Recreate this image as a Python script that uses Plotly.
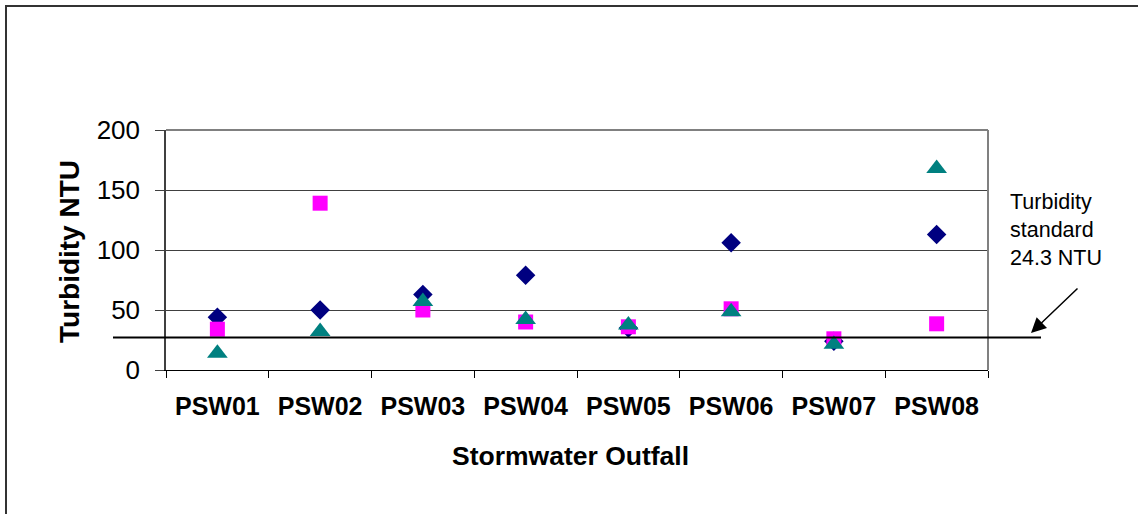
import plotly.graph_objects as go

outfalls = ["PSW01", "PSW02", "PSW03", "PSW04", "PSW05", "PSW06", "PSW07", "PSW08"]
series_diamond = [44, 50, 63, 79, 35, 106, 24, 113]
series_square = [34, 139, 50, 40, 36, 51, 26, 38.5]
series_triangle = [14, 32, 57, 42, 37.5, 48.5, 21.5, 168]
standard_line_y = 27  # drawn position of the standard line
standard_label = "Turbidity<br>standard<br>24.3 NTU"
y_ticks = [0, 50, 100, 150, 200]

FONT = "Arial, 'Liberation Sans', sans-serif"

fig = go.Figure()
fig.add_trace(go.Scatter(x=outfalls, y=series_diamond, mode="markers",
                         marker=dict(symbol="diamond", size=15, color="#000080")))
fig.add_trace(go.Scatter(x=outfalls, y=series_square, mode="markers",
                         marker=dict(symbol="square", size=15, color="#FF00FF")))
fig.add_trace(go.Scatter(x=outfalls, y=series_triangle, mode="markers",
                         marker=dict(symbol="triangle-up", size=18, color="#008080")))

L, R, T, B = 166, 150, 130, 144
W, H = 1138, 514
pw, ph = W - L - R, H - T - B

def px_x(x):
    return (x - L) / pw

def px_y(y):
    return (H - B - y) / ph

fig.update_layout(
    width=W, height=H,
    margin=dict(l=L, r=R, t=T, b=B),
    paper_bgcolor="white", plot_bgcolor="white",
    showlegend=False,
    font=dict(family=FONT, color="black"),
    xaxis=dict(
        type="category", tickson="boundaries", ticks="outside", ticklen=7,
        tickcolor="black", showline=True, linecolor="black", linewidth=1,
        showgrid=False, tickfont=dict(size=25, family=FONT, weight="bold"),
        ticklabelstandoff=14, range=[-0.5, 7.5], fixedrange=True,
    ),
    yaxis=dict(
        range=[0, 200], tickvals=y_ticks, ticks="outside", ticklen=9,
        tickcolor="#404040", showline=True, linecolor="#404040", linewidth=1.5,
        showgrid=True, gridcolor="#404040", gridwidth=1, zeroline=False,
        tickfont=dict(size=26, family=FONT), ticklabelstandoff=10,
    ),
)

shapes = [
    dict(type="rect", xref="paper", yref="paper", x0=px_x(6), x1=px_x(1300),
         y0=px_y(700), y1=px_y(6), line=dict(color="#333333", width=2), layer="below"),
    dict(type="line", xref="paper", yref="paper", x0=0, x1=1, y0=1, y1=1,
         line=dict(color="#808080", width=2)),
    dict(type="line", xref="paper", yref="paper", x0=1, x1=1, y0=0, y1=1,
         line=dict(color="#808080", width=2)),
    dict(type="line", xref="paper", yref="y", x0=px_x(113), x1=px_x(1041),
         y0=standard_line_y, y1=standard_line_y, line=dict(color="black", width=2)),
]
fig.update_layout(shapes=shapes)

annotations = [
    dict(text="Turbidity NTU", xref="paper", yref="paper", x=px_x(69), y=px_y(252),
         textangle=-90, showarrow=False, font=dict(size=28, family=FONT, weight="bold"),
         xanchor="center", yanchor="middle"),
    dict(text="Stormwater Outfall", xref="paper", yref="paper", x=px_x(570), y=px_y(456),
         showarrow=False, font=dict(size=26.5, family=FONT, weight="bold"),
         xanchor="center", yanchor="middle"),
    dict(text=standard_label, xref="paper", yref="paper", x=px_x(1008), y=px_y(230),
         showarrow=False, align="left", xanchor="left", yanchor="middle",
         font=dict(size=21.5, family=FONT)),
    dict(text="", xref="paper", yref="paper", x=px_x(1031), y=px_y(333),
         ax=48, ay=-46, showarrow=True, arrowhead=2, arrowsize=2, arrowwidth=1.5,
         arrowcolor="black"),
]
fig.update_layout(annotations=annotations)

fig.write_html("out.html", config={"displayModeBar": False},
               post_script="document.body.style.margin='0';document.body.style.padding='0';")
